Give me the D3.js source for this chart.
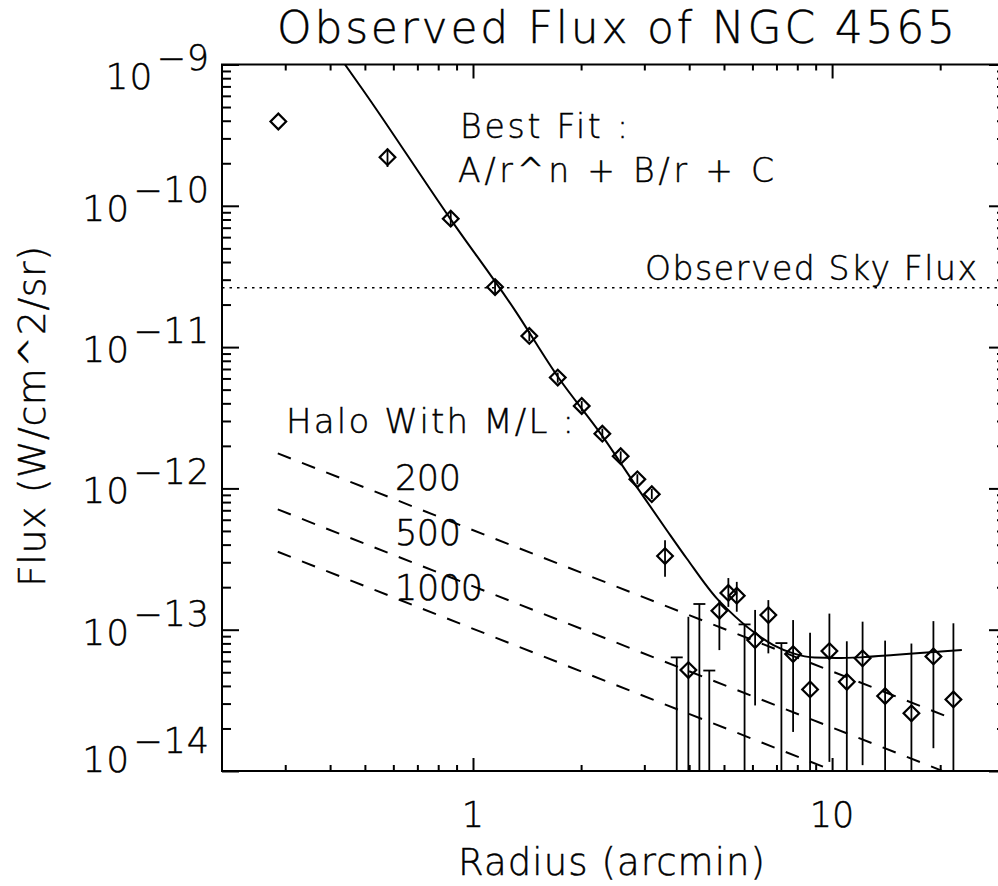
<!DOCTYPE html>
<html>
<head>
<meta charset="utf-8">
<script src="https://cdn.jsdelivr.net/npm/d3@7"></script>
<style>
  html, body { margin: 0; padding: 0; background: #fff; }
  svg { display: block; }
  text { font-family: 'DejaVu Sans', sans-serif; font-weight: 200; fill: #000; stroke: #000; stroke-width: 0.45px; }
</style>
</head>
<body>
<svg id="chart" width="998" height="886"></svg>
<script>
// ---------------- data ----------------
const chartTitle = "Observed Flux of NGC 4565";
const xTitle = "Radius (arcmin)";
const yTitle = "Flux (W/cm^2/sr)";

const xMajorTicks = [1, 10];
const xMajorLabels = ["1", "10"];
const yMajorExponents = [-9, -10, -11, -12, -13, -14];

// observed points: radius (arcmin), flux, error-bar low / high (null = below the axis)
const radius = [0.287, 0.578, 0.867, 1.152, 1.435, 1.722, 2.008, 2.292, 2.578, 2.869, 3.147, 3.426,
                3.979, 4.854, 5.142, 5.427, 6.104, 6.645, 7.788, 8.683, 9.829, 10.99, 12.16, 14.05, 16.63, 19.15, 21.77];
const flux   = [3.95e-10, 2.21e-10, 8.11e-11, 2.66e-11, 1.20e-11, 6.09e-12, 3.83e-12, 2.44e-12, 1.69e-12, 1.16e-12, 9.10e-13, 3.32e-13,
                5.18e-14, 1.36e-13, 1.82e-13, 1.74e-13, 8.44e-14, 1.27e-13, 6.72e-14, 3.78e-14, 7.06e-14, 4.28e-14, 6.27e-14, 3.39e-14, 2.56e-14, 6.47e-14, 3.21e-14];
const errLow = [null, 1.88e-10, 7.07e-11, 2.40e-11, 1.10e-11, 5.6e-12, 3.5e-12, 2.25e-12, 1.55e-12, 1.07e-12, 8.4e-13, 2.37e-13,
                null, 7.17e-14, 1.45e-13, 1.34e-13, 2.91e-14, 6.80e-14, 1.89e-14, null, 1.16e-14, null, 1.10e-14, null, null, 1.45e-14, null];
const errHigh = [null, 2.53e-10, 9.03e-11, 3.02e-11, 1.30e-11, 6.6e-12, 4.15e-12, 2.65e-12, 1.83e-12, 1.26e-12, 9.9e-13, 4.30e-13,
                1.234e-13, 1.62e-13, 2.32e-13, 2.18e-13, 1.38e-13, 1.62e-13, 1.17e-13, 9.51e-14, 1.30e-13, 8.28e-14, 1.14e-13, 8.37e-14, 7.98e-14, 1.15e-13, 1.11e-13];

// points that fall below the axis: only the capped upper error bar is visible
const offRadius = [3.693, 4.27, 4.55, 5.705, 7.225];
const offHigh   = [6.37e-14, 1.52e-13, 5.14e-14, 1.09e-13, 8.04e-14];

// best fit curve  A/r^n + B/r + C
const fitRadius = [0.440, 0.495, 0.863, 1.309, 1.729, 2.283, 2.857, 3.464, 3.938, 4.774, 5.142, 6.036, 6.865, 7.80, 8.93, 10.30, 11.97, 14.82, 18.36, 22.98];
const fitFlux   = [1.0e-9, 6.55e-10, 8.15e-11, 1.82e-11, 6.09e-12, 2.38e-12, 1.025e-12, 5.06e-13, 3.19e-13, 1.665e-13, 1.376e-13, 9.66e-14, 7.78e-14, 6.80e-14, 6.35e-14, 6.30e-14, 6.37e-14, 6.61e-14, 6.91e-14, 7.17e-14];

// halo models (M/L = 200, 500, 1000): straight lines in log-log, start and end points
const haloLabels = ["200", "500", "1000"];
const haloRadius = [0.286, 21.5];
const haloFlux200  = [1.77e-12, 2.36e-14];
const haloFlux500  = [7.10e-13, 9.45e-15];
const haloFlux1000 = [3.56e-13, 4.70e-15];

const skyFlux = 2.63e-11;

// ---------------- drawing ----------------
const svg = d3.select("#chart");
const L = 222, R = 1006, T = 64.5, B = 771;

const x = d3.scaleLog().domain([0.2, 30.5]).range([L, R]);
const y = d3.scaleLog().domain([1e-14, 1e-9]).range([B, T]);

svg.append("defs").append("clipPath").attr("id", "plotclip")
  .append("rect").attr("x", L).attr("y", T).attr("width", R - L).attr("height", B - T);

const plot = svg.append("g").attr("clip-path", "url(#plotclip)");

// minor / major tick values
const xMinor = [];
[0.1, 1, 10].forEach(d => { for (let k = 2; k <= 9; k++) { const v = d * k; if (v > 0.2 && v < 30.5) xMinor.push(v); } });
const yMinor = [];
for (let e = -14; e < -9; e++) for (let k = 2; k <= 9; k++) yMinor.push(k * Math.pow(10, e));
const yMajor = yMajorExponents.map(e => Math.pow(10, e));

function styleAxis(g) {
  g.select(".domain").remove();
  g.selectAll(".tick line").attr("stroke", "#000").attr("stroke-width", 2);
  g.selectAll(".tick text").remove();
}
// bottom
svg.append("g").attr("transform", `translate(0,${B})`).call(d3.axisBottom(x).tickValues(xMinor).tickSize(-6).tickFormat("")).call(styleAxis);
svg.append("g").attr("transform", `translate(0,${B})`).call(d3.axisBottom(x).tickValues(xMajorTicks).tickSize(-13).tickFormat("")).call(styleAxis);
// top
svg.append("g").attr("transform", `translate(0,${T})`).call(d3.axisTop(x).tickValues(xMinor).tickSize(-6).tickFormat("")).call(styleAxis);
svg.append("g").attr("transform", `translate(0,${T})`).call(d3.axisTop(x).tickValues(xMajorTicks).tickSize(-14).tickFormat("")).call(styleAxis);
// left
svg.append("g").attr("transform", `translate(${L},0)`).call(d3.axisLeft(y).tickValues(yMinor).tickSize(-9).tickFormat("")).call(styleAxis);
svg.append("g").attr("transform", `translate(${L},0)`).call(d3.axisLeft(y).tickValues(yMajor).tickSize(-17).tickFormat("")).call(styleAxis);
// right
svg.append("g").attr("transform", `translate(${R},0)`).call(d3.axisRight(y).tickValues(yMinor).tickSize(-9).tickFormat("")).call(styleAxis);
svg.append("g").attr("transform", `translate(${R},0)`).call(d3.axisRight(y).tickValues(yMajor).tickSize(-17).tickFormat("")).call(styleAxis);

// frame
svg.append("rect").attr("x", L).attr("y", T).attr("width", R - L).attr("height", B - T)
  .attr("fill", "none").attr("stroke", "#000").attr("stroke-width", 2);

// x tick labels
xMajorTicks.forEach((v, i) => {
  svg.append("text").attr("x", x(v)).attr("y", B + 56).attr("text-anchor", "middle")
    .attr("font-size", 35).text(xMajorLabels[i]);
});
// y tick labels 10^-n
yMajorExponents.forEach(e => {
  let by = y(Math.pow(10, e)) + 15;
  by = Math.max(by, T + 24);
  by = Math.min(by, B + 1);
  const t = svg.append("text").attr("x", 210).attr("y", by).attr("text-anchor", "end").attr("font-size", 36);
  t.append("tspan").attr("letter-spacing", 1).text("10");
  t.append("tspan").attr("dx", 3).attr("dy", -19).attr("font-size", 35).attr("letter-spacing", 1).text("\u2212" + Math.abs(e));
});

// axis titles and main title
svg.append("text").attr("x", 277).attr("y", 43).attr("font-size", 44)
  .attr("textLength", 678).attr("lengthAdjust", "spacing").text(chartTitle);
svg.append("text").attr("x", 458).attr("y", 875).attr("font-size", 37)
  .attr("textLength", 307).attr("lengthAdjust", "spacing").text(xTitle);
svg.append("text").attr("transform", "translate(45,587) rotate(-90)").attr("font-size", 38)
  .attr("textLength", 341).attr("lengthAdjust", "spacing").text(yTitle);

// sky flux dotted line
plot.append("line").attr("x1", L).attr("x2", R).attr("y1", y(skyFlux)).attr("y2", y(skyFlux))
  .attr("stroke", "#000").attr("stroke-width", 1.6).attr("stroke-dasharray", "2.5,5");

// halo dashed lines
const logLine = d3.line().x(d => x(d[0])).y(d => y(d[1]));
[haloFlux200, haloFlux500, haloFlux1000].forEach(fl => {
  plot.append("path").attr("d", logLine(haloRadius.map((r, i) => [r, fl[i]])))
    .attr("fill", "none").attr("stroke", "#000").attr("stroke-width", 2).attr("stroke-dasharray", "14,12");
});

// best fit curve
plot.append("path")
  .attr("d", d3.line().x(d => x(d[0])).y(d => y(d[1])).curve(d3.curveMonotoneX)(fitRadius.map((r, i) => [r, fitFlux[i]])))
  .attr("fill", "none").attr("stroke", "#000").attr("stroke-width", 2);

// error bars of observed points
radius.forEach((r, i) => {
  if (errHigh[i] === null) return;
  const lo = errLow[i] === null ? B : y(errLow[i]);
  plot.append("line").attr("x1", x(r)).attr("x2", x(r)).attr("y1", y(errHigh[i])).attr("y2", lo)
    .attr("stroke", "#000").attr("stroke-width", 1.8);
});
// capped error bars of points below the axis
offRadius.forEach((r, i) => {
  plot.append("line").attr("x1", x(r)).attr("x2", x(r)).attr("y1", y(offHigh[i])).attr("y2", B)
    .attr("stroke", "#000").attr("stroke-width", 1.8);
  plot.append("line").attr("x1", x(r) - 6).attr("x2", x(r) + 6).attr("y1", y(offHigh[i])).attr("y2", y(offHigh[i]))
    .attr("stroke", "#000").attr("stroke-width", 1.8);
});
// diamonds
const diamond = d3.symbol(d3.symbolSquare, 123);
radius.forEach((r, i) => {
  plot.append("path").attr("d", diamond())
    .attr("transform", `translate(${x(r)},${y(flux[i])}) rotate(45)`)
    .attr("fill", "none").attr("stroke", "#000").attr("stroke-width", 2.2);
});

// annotations
svg.append("text").attr("x", 460).attr("y", 138).attr("font-size", 33)
  .attr("textLength", 168).attr("lengthAdjust", "spacing").text("Best Fit :");
svg.append("text").attr("x", 458).attr("y", 182).attr("font-size", 33)
  .attr("textLength", 316).attr("lengthAdjust", "spacing").text("A/r^n + B/r + C");
svg.append("text").attr("x", 645).attr("y", 280).attr("font-size", 33)
  .attr("textLength", 332).attr("lengthAdjust", "spacing").text("Observed Sky Flux");
svg.append("text").attr("x", 286).attr("y", 433).attr("font-size", 34)
  .attr("textLength", 288).attr("lengthAdjust", "spacing").text("Halo With M/L :");
const haloLabelY = [490, 545, 600];
haloLabels.forEach((s, i) => {
  svg.append("text").attr("x", 395).attr("y", haloLabelY[i]).attr("font-size", 35)
    .attr("textLength", s.length === 3 ? 66 : 88).attr("lengthAdjust", "spacing").text(s);
});
</script>
</body>
</html>
